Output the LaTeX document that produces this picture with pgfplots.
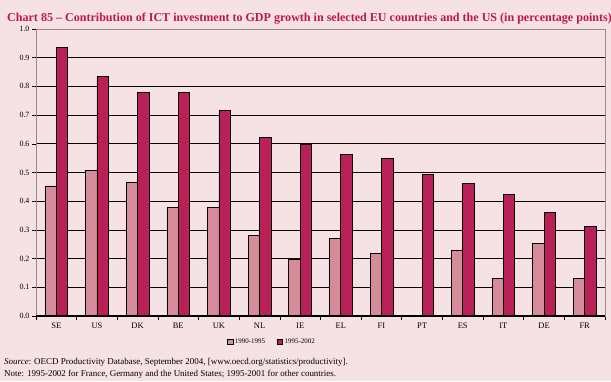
\documentclass[border=0pt]{standalone}
\usepackage{pgfplots}
\pgfplotsset{compat=1.18}
\usepackage{fontspec}
\setmainfont{Liberation Serif}
\definecolor{bgpink}{RGB}{246,226,229}
\definecolor{lightbar}{RGB}{213,139,153}
\definecolor{darkbar}{RGB}{185,32,88}
\definecolor{titlecol}{RGB}{190,22,80}
\definecolor{framegray}{RGB}{150,138,141}
\begin{document}
\begin{tikzpicture}[x=1bp,y=1bp]
\fill[bgpink] (0,0) rectangle (611,381);
\useasboundingbox (0,0) rectangle (611,381);
\node[anchor=base west, inner sep=0, text=titlecol, font=\bfseries\fontsize{12.1}{14}\selectfont] at (7,360) {Chart 85 -- Contribution of ICT investment to GDP growth in selected EU countries and the US (in percentage points)};
\begin{axis}[
  at={(36bp,65bp)}, anchor=south west,
  scale only axis, width=569bp, height=287bp,
  xmin=-0.5, xmax=13.5, ymin=0, ymax=1.0,
  xtick={0,...,13},
  xticklabels={SE,US,DK,BE,UK,NL,IE,EL,FI,PT,ES,IT,DE,FR},
  minor xtick={-0.5,0.5,...,13.5},
  major x tick style={draw=none},
  minor tick length=4bp,
  ytick={0,0.1,...,1.0},
  major tick length=4bp,
  tick align=outside,
  xtick pos=bottom, ytick pos=left,
  tick style={black, line width=0.6bp},
  /pgf/number format/fixed,
  /pgf/number format/fixed zerofill,
  /pgf/number format/precision=1,
  /pgf/number format/assume math mode=true,
  yticklabel style={font=\fontsize{8}{9}\selectfont, xshift=1bp},
  xticklabel style={font=\fontsize{8.5}{10}\selectfont, yshift=1bp},
  ymajorgrids,
  grid style={black, line width=0.8bp},
  axis line style={draw=framegray, line width=0.8bp},
  axis background/.style={fill=bgpink},
  ybar, bar width=11.4bp,
  legend style={at={(0.415,-0.09)}, anchor=center, draw=none, fill=none,
    font=\fontsize{7}{8}\selectfont, legend columns=2,
    /tikz/every even column/.append style={column sep=10bp}},
  legend image code/.code={\draw[#1, draw=black, line width=0.4bp] (0cm,-0.09cm) rectangle (0.18cm,0.09cm);},
]
\addplot[fill=lightbar, draw=black, line width=0.7bp, bar shift=-5.7bp] coordinates {
(0,0.453) (1,0.507) (2,0.465) (3,0.378) (4,0.378) (5,0.281) (6,0.199) (7,0.270) (8,0.219) (10,0.229) (11,0.132) (12,0.254) (13,0.132)};
\addplot[fill=darkbar, draw=black, line width=0.7bp, bar shift=5.7bp] coordinates {
(0,0.936) (1,0.834) (2,0.779) (3,0.779) (4,0.716) (5,0.623) (6,0.598) (7,0.564) (8,0.550) (9,0.494) (10,0.463) (11,0.424) (12,0.361) (13,0.313)};
\legend{1990-1995,1995-2002}
\draw[black, line width=1.6bp] (axis cs:-0.5,0) -- (axis cs:13.5,0);
\end{axis}
\node[anchor=base west, inner sep=0, font=\fontsize{9}{10}\selectfont] at (4,17) {\textit{Source}: OECD Productivity Database, September 2004, [www.oecd.org/statistics/productivity].};
\node[anchor=base west, inner sep=0, font=\fontsize{9}{10}\selectfont] at (4,5) {Note: 1995-2002 for France, Germany and the United States; 1995-2001 for other countries.};
\end{tikzpicture}
\end{document}
